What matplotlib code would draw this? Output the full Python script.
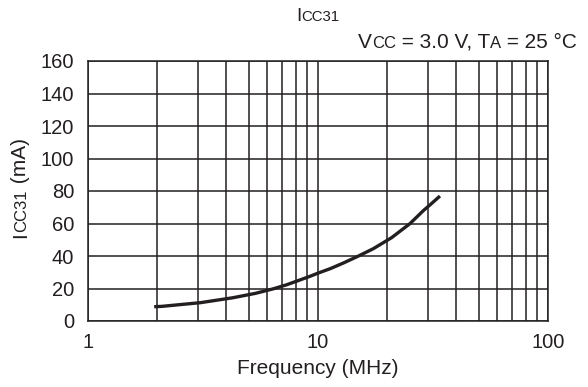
import matplotlib
matplotlib.use('Agg')
import matplotlib.pyplot as plt
import matplotlib.transforms as mtransforms

# --- data ---
freq = [1.94, 2.09, 3.09, 4.26, 5.34, 6.39, 7.31, 9.23, 9.93, 11.3, 12.9, 15.0, 17.4,
        20.9, 25.1, 28.7, 31.0, 33.9]
icc = [8.8, 9.0, 11.3, 14.3, 17.0, 19.8, 22.3, 27.5, 29.3, 32.2, 35.7, 40.0, 44.5,
       51.3, 59.9, 67.9, 72.0, 76.9]

x_ticks = [1, 10, 100]
x_tick_labels = ['1', '10', '100']
y_ticks = [0, 20, 40, 60, 80, 100, 120, 140, 160]

plt.rcParams['font.family'] = ['Liberation Sans', 'DejaVu Sans']
FS_TICK = 14.5
FS_LABEL = 15
INK = '#231f20'
W, H = 588, 387

fig = plt.figure(figsize=(W / 100, H / 100), dpi=100)
ax = fig.add_axes([88 / W, 1 - 321 / H, 460 / W, 260 / H])

ax.plot(freq, icc, color=INK, lw=2.4, solid_capstyle='butt', solid_joinstyle='round')

ax.set_xscale('log')
ax.set_xlim(1, 100)
ax.set_ylim(0, 160)
ax.set_xticks(x_ticks)
ax.set_xticklabels(x_tick_labels)
ax.set_yticks(y_ticks)
ax.grid(which='major', color=INK, lw=1.1)
ax.grid(which='minor', axis='x', color=INK, lw=1.1)
ax.tick_params(which='both', length=0, labelsize=FS_TICK, colors=INK)
ax.tick_params(axis='x', pad=9)
ax.tick_params(axis='y', pad=10)
for sp in ax.spines.values():
    sp.set_color(INK)
    sp.set_linewidth(1.1)

ax.set_xlabel('Frequency (MHz)', fontsize=FS_LABEL, color=INK, labelpad=5)

ident = mtransforms.IdentityTransform()


def rich(x, y, pieces, size, rot=0, align='left'):
    # draw text pieces of different sizes sharing one baseline (pixel coords, origin bottom-left)
    renderer = fig.canvas.get_renderer()
    texts = []
    lengths = []
    for s, scale in pieces:
        t = fig.text(0, 0, s, fontsize=size * scale, rotation=rot, rotation_mode='anchor',
                     ha='left', va='baseline', transform=ident, color=INK)
        bb = t.get_window_extent(renderer)
        texts.append(t)
        lengths.append(bb.height if rot == 90 else bb.width)
    total = sum(lengths)
    start = {'left': 0, 'center': total / 2, 'right': total}[align]
    pos = -start
    for t, L in zip(texts, lengths):
        if rot == 90:
            t.set_position((x, y + pos))
        else:
            t.set_position((x + pos, y))
        pos += L


small = 0.8
fig.canvas.draw()
rich(318, H - 21, [('I', 1.0), ('CC31', small)], 13.5, align='center')
rich(577, H - 48, [('V', 1.0), ('CC', small), (' = 3.0 V, T', 1.0), ('A', small), (' = 25 °C', 1.0)],
     FS_LABEL, align='right')
rich(26, H - 188, [('I', 1.0), ('CC31', small), (' (mA)', 1.0)], FS_LABEL, rot=90, align='center')

fig.savefig('out.png', dpi=100)
